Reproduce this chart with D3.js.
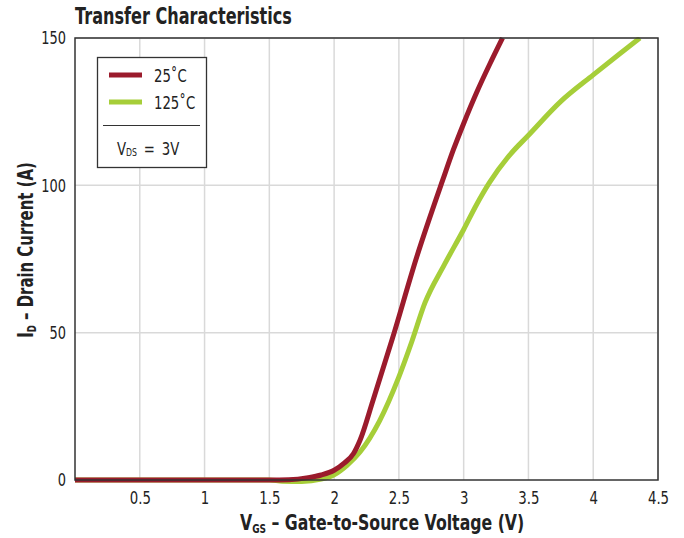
<!DOCTYPE html>
<html>
<head>
<meta charset="utf-8">
<script src="https://cdn.jsdelivr.net/npm/d3@7"></script>
<style>
  body { margin: 0; background: #fff; }
  svg { display: block; }
  text { font-family: "DejaVu Sans", sans-serif; fill: #222; }
</style>
</head>
<body>
<svg id="chart" width="684" height="538"></svg>
<script>
// Drain current vs gate-source voltage, V_DS = 3 V
const xTicks = [0.5, 1, 1.5, 2, 2.5, 3, 3.5, 4, 4.5];
const yTicks = [0, 50, 100, 150];

const vgs25 = [0, 1.5, 1.65, 1.8, 1.9, 2.0, 2.08, 2.15, 2.2, 2.3, 2.45, 2.64, 2.84, 2.92, 3.0, 3.1, 3.2, 3.3];
const id25  = [0, 0, 0.1, 0.8, 1.7, 3.3, 5.8, 9, 13.5, 27, 48, 76, 102, 112, 121, 131.5, 141, 150];

const vgs125 = [0, 1.5, 1.6, 1.75, 1.9, 2.0, 2.1, 2.2, 2.35, 2.5, 2.6, 2.7, 2.85, 3.0, 3.1, 3.2, 3.35, 3.5, 3.75, 4.0, 4.2, 4.36];
const id125  = [0, 0, -0.4, -0.5, 0.3, 1.8, 5, 9.5, 20, 35, 47, 60, 73, 85, 93.5, 101, 110, 117, 128.5, 137.5, 144.5, 150];

const seriesNames = ["25˚C", "125˚C"];
const seriesColors = ["#9b1b2c", "#a6ce39"];

const svg = d3.select("#chart");
const margin = { left: 75, right: 26, top: 38, bottom: 58 };
const W = 684, H = 538;
const x = d3.scaleLinear().domain([0, 4.5]).range([margin.left, W - margin.right]);
const y = d3.scaleLinear().domain([0, 150]).range([H - margin.bottom, margin.top]);

// narrow text: placed by transform, squeezed horizontally
function narrowText(parent, px, py, size, sx, opts = {}) {
  return parent.append("text")
    .attr("transform", `translate(${px},${py})${opts.rotate ? ` rotate(${opts.rotate})` : ""} scale(${sx},1)`)
    .attr("font-size", size)
    .attr("font-weight", opts.bold ? "bold" : null)
    .attr("text-anchor", opts.anchor || "start");
}

// gridlines
svg.append("g")
  .selectAll("line").data(xTicks).join("line")
  .attr("x1", d => x(d)).attr("x2", d => x(d))
  .attr("y1", y(0)).attr("y2", y(150))
  .attr("stroke", "#d9d9d9").attr("stroke-width", 1.5);
svg.append("g")
  .selectAll("line").data(yTicks.slice(1)).join("line")
  .attr("x1", x(0)).attr("x2", x(4.5))
  .attr("y1", d => y(d)).attr("y2", d => y(d))
  .attr("stroke", "#d9d9d9").attr("stroke-width", 1.5);

// curves
const line = d3.line().x(d => x(d[0])).y(d => y(d[1])).curve(d3.curveMonotoneX);
svg.append("clipPath").attr("id", "clip").append("rect")
  .attr("x", x(0)).attr("y", y(150) - 1).attr("width", x(4.5) - x(0)).attr("height", y(0) - y(150) + 6);
const data125 = vgs125.map((v, i) => [v, id125[i]]);
const data25 = vgs25.map((v, i) => [v, id25[i]]);
svg.append("path").datum(data125).attr("d", line)
  .attr("fill", "none").attr("stroke", seriesColors[1]).attr("stroke-width", 5)
  .attr("clip-path", "url(#clip)");
svg.append("path").datum(data25).attr("d", line)
  .attr("fill", "none").attr("stroke", seriesColors[0]).attr("stroke-width", 5)
  .attr("clip-path", "url(#clip)");

// frame
svg.append("rect")
  .attr("x", x(0)).attr("y", y(150)).attr("width", x(4.5) - x(0)).attr("height", y(0) - y(150))
  .attr("fill", "none").attr("stroke", "#333").attr("stroke-width", 1.5);

// axes
const xAxis = svg.append("g").attr("transform", `translate(0,${y(0)})`)
  .call(d3.axisBottom(x).tickValues(xTicks).tickSize(0).tickPadding(11).tickFormat(d3.format("")));
xAxis.select(".domain").remove();
xAxis.selectAll("text").attr("font-size", 18).attr("font-family", null).attr("transform", "scale(0.74,1)");

const yAxis = svg.append("g").attr("transform", `translate(${x(0)},0)`)
  .call(d3.axisLeft(y).tickValues(yTicks).tickSize(0).tickPadding(12.5));
yAxis.select(".domain").remove();
yAxis.selectAll("text").attr("font-size", 18).attr("font-family", null).attr("transform", "scale(0.72,1)");

// title
narrowText(svg, 75, 24, 23, 0.7, { bold: true }).text("Transfer Characteristics");

// x axis title
const xt = narrowText(svg, 240, 530, 21, 0.75, { bold: true });
xt.append("tspan").text("V");
xt.append("tspan").attr("font-size", 12).attr("dy", 3).text("GS");
xt.append("tspan").attr("dy", -3).text(" – Gate-to-Source Voltage (V)");

// y axis title
const yt = narrowText(svg, 33, 250, 21, 0.71, { bold: true, rotate: -90, anchor: "middle" });
yt.append("tspan").text("I");
yt.append("tspan").attr("font-size", 12).attr("dy", 3).text("D");
yt.append("tspan").attr("dy", -3).text(" – Drain Current (A)");

// legend
const lg = svg.append("g");
lg.append("rect").attr("x", 97.5).attr("y", 57.5).attr("width", 109).attr("height", 110)
  .attr("fill", "#fff").attr("stroke", "#333").attr("stroke-width", 1.3);
seriesNames.forEach((name, i) => {
  const cy = 75 + i * 27;
  lg.append("line").attr("x1", 109).attr("x2", 142).attr("y1", cy).attr("y2", cy)
    .attr("stroke", seriesColors[i]).attr("stroke-width", 5);
  narrowText(lg, 154, cy + 7, 17, 0.78).text(name);
});
lg.append("line").attr("x1", 103).attr("x2", 200).attr("y1", 125.5).attr("y2", 125.5)
  .attr("stroke", "#333").attr("stroke-width", 1.2);
const vt = narrowText(lg, 117, 155, 17, 0.78);
vt.append("tspan").text("V");
vt.append("tspan").attr("font-size", 10).attr("dy", 1).text("DS");
vt.append("tspan").attr("dy", -1).text(" \u2009=\u2009 3V");
</script>
</body>
</html>
